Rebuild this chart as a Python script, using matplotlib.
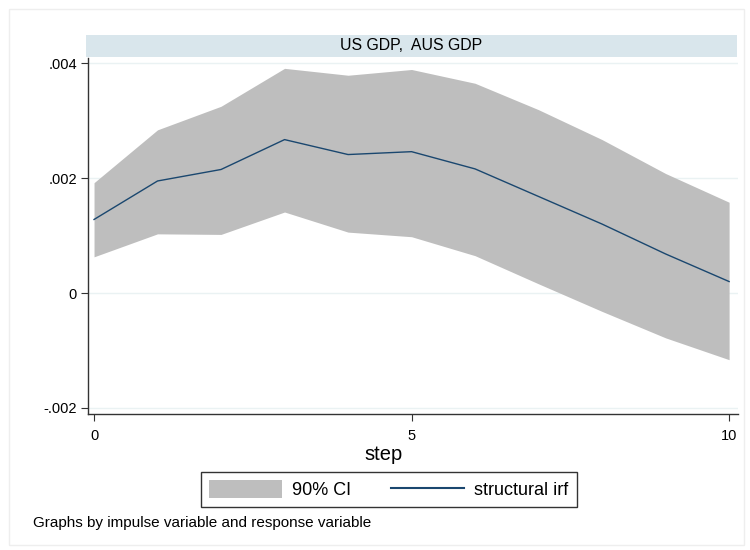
import matplotlib
matplotlib.use('Agg')
from matplotlib import pyplot as plt
from matplotlib.patches import Rectangle, Patch
from matplotlib.lines import Line2D
from matplotlib.ticker import FixedLocator

plt.rcParams['font.family'] = ['Liberation Sans', 'DejaVu Sans']

steps = [0, 1, 2, 3, 4, 5, 6, 7, 8, 9, 10]
irf = [0.00128, 0.00195, 0.00215, 0.00267, 0.00241, 0.00246, 0.00216, 0.00168, 0.00120, 0.00068, 0.00020]
ci_upper = [0.00192, 0.00284, 0.00325, 0.00391, 0.00379, 0.00389, 0.00365, 0.00319, 0.00267, 0.00208, 0.00158]
ci_lower = [0.00063, 0.00103, 0.00102, 0.00141, 0.00106, 0.00098, 0.00065, 0.00016, -0.00032, -0.00078, -0.00116]

y_ticks = [-0.002, 0, 0.002, 0.004]
y_labels = ['-.002', '0', '.002', '.004']
x_ticks = [0, 5, 10]

band_color = '#bebebe'
line_color = '#1a476f'

fig = plt.figure(figsize=(7.5, 5.5), dpi=100)
W, H = 750, 550

# axes box in pixels: left 88, right 738, top 58, bottom 414
ax = fig.add_axes([88 / W, 1 - 414 / H, (738 - 88) / W, (414 - 58) / H])

ax.fill_between(steps, ci_lower, ci_upper, color=band_color, linewidth=0, zorder=2)
ax.plot(steps, irf, color=line_color, linewidth=1.0, zorder=3)

ax.set_xlim(-0.095, 10.14)
ax.set_ylim(-0.002105, 0.00409)

ax.yaxis.set_major_locator(FixedLocator(y_ticks))
ax.set_yticklabels(y_labels)
ax.set_xticks(x_ticks)
ax.set_xticklabels([str(t) for t in x_ticks])

for t in y_ticks:
    ax.axhline(t, color='#eaf2f3', linewidth=1.0, zorder=1)

for side in ['top', 'right']:
    ax.spines[side].set_visible(False)
for side in ['left', 'bottom']:
    ax.spines[side].set_color('#333333')
    ax.spines[side].set_linewidth(1.0)

ax.tick_params(axis='both', labelsize=10.5, length=5, width=0.8, color='#333333', pad=3)
ax.tick_params(axis='x', pad=6)

# title strip
fig.patches.append(Rectangle((86 / W, 1 - 57 / H), (737 - 86) / W, 22 / H,
                             transform=fig.transFigure, facecolor='#d9e6ec',
                             edgecolor='none'))
fig.text(411 / W, 1 - 46 / H, 'US GDP,  AUS GDP', ha='center', va='center', fontsize=11.4)

fig.text(384 / W, 1 - 455 / H, 'step', ha='center', va='center', fontsize=14.5)

# outer border
fig.patches.append(Rectangle((9 / W, 1 - 545 / H), (744 - 9) / W, (545 - 9) / H,
                             transform=fig.transFigure, facecolor='none',
                             edgecolor='#eeeeee', linewidth=1.0))

handles = [Patch(facecolor=band_color, edgecolor='none'),
           Line2D([0], [0], color=line_color, linewidth=1.5)]
leg = fig.legend(handles, ['90% CI', 'structural irf'], loc='center',
                 bbox_to_anchor=(389 / W, 1 - 489.5 / H), ncol=2, fontsize=13,
                 frameon=True, fancybox=False, edgecolor='black',
                 handlelength=4.0, handleheight=1.15, columnspacing=2.2,
                 borderpad=0.45, handletextpad=0.6, borderaxespad=0)
leg.get_frame().set_linewidth(1.0)

fig.text(33 / W, 1 - 523 / H, 'Graphs by impulse variable and response variable',
         ha='left', va='center', fontsize=11)

fig.savefig('out.png', dpi=100)
